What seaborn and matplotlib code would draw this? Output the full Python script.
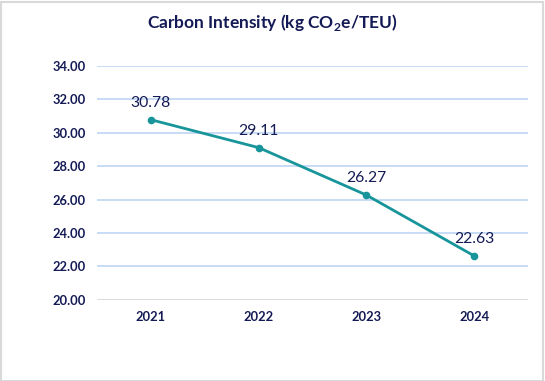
import matplotlib
matplotlib.use('Agg')
import matplotlib.pyplot as plt
import seaborn as sns
import pandas as pd
from matplotlib.patches import Rectangle

years = ['2021', '2022', '2023', '2024']
intensity = [30.78, 29.11, 26.27, 22.63]
y_ticks = [20, 22, 24, 26, 28, 30, 32, 34]

navy = '#141a55'
teal = '#17959a'

sns.set_theme(style='white')
plt.rcParams['font.family'] = ['Lato', 'DejaVu Sans']
plt.rcParams['mathtext.fontset'] = 'custom'
plt.rcParams['mathtext.rm'] = 'Lato'
plt.rcParams['mathtext.bf'] = 'Lato:bold'

df = pd.DataFrame({'Year': years, 'Intensity': intensity})

fig = plt.figure(figsize=(5.45, 3.81), dpi=100)
ax = fig.add_axes([0.178, 0.213, 0.791, 0.614])

sns.pointplot(data=df, x='Year', y='Intensity', color=teal, ax=ax,
              markers='o', linewidth=2, markersize=4)

ax.set_ylim(20, 34)
ax.set_yticks(y_ticks)
ax.set_yticklabels([f'{v:.2f}' for v in y_ticks])
ax.set_xlim(-0.5, len(years) - 0.5)

for t in y_ticks[1:]:
    ax.axhline(t, color='#c3d9f6', linewidth=1.3, zorder=0)
ax.axhline(20, color='#d9d9d9', linewidth=1.3, zorder=0)

for i, v in enumerate(intensity):
    ax.annotate(f'{v:.2f}', (i, v), xytext=(0, 7), textcoords='offset points',
                ha='center', va='bottom', fontsize=11.3, color=navy)

for s in ax.spines.values():
    s.set_visible(False)
ax.tick_params(axis='both', length=0, labelsize=9.3, labelcolor=navy, pad=8)
for lbl in ax.get_xticklabels() + ax.get_yticklabels():
    lbl.set_fontweight('bold')
ax.set_xlabel('')
ax.set_ylabel('')

fig.text(0.5, 0.942, r'Carbon Intensity (kg CO$_\mathbf{2}$e/TEU)', ha='center', va='center',
         fontsize=12.5, fontweight='bold', color=navy)

fig.patches.append(Rectangle((0.001, 0.001), 0.996, 0.994, transform=fig.transFigure,
                             fill=False, edgecolor='#d9d9d9', linewidth=1.5))

fig.savefig('out.png', dpi=100)
